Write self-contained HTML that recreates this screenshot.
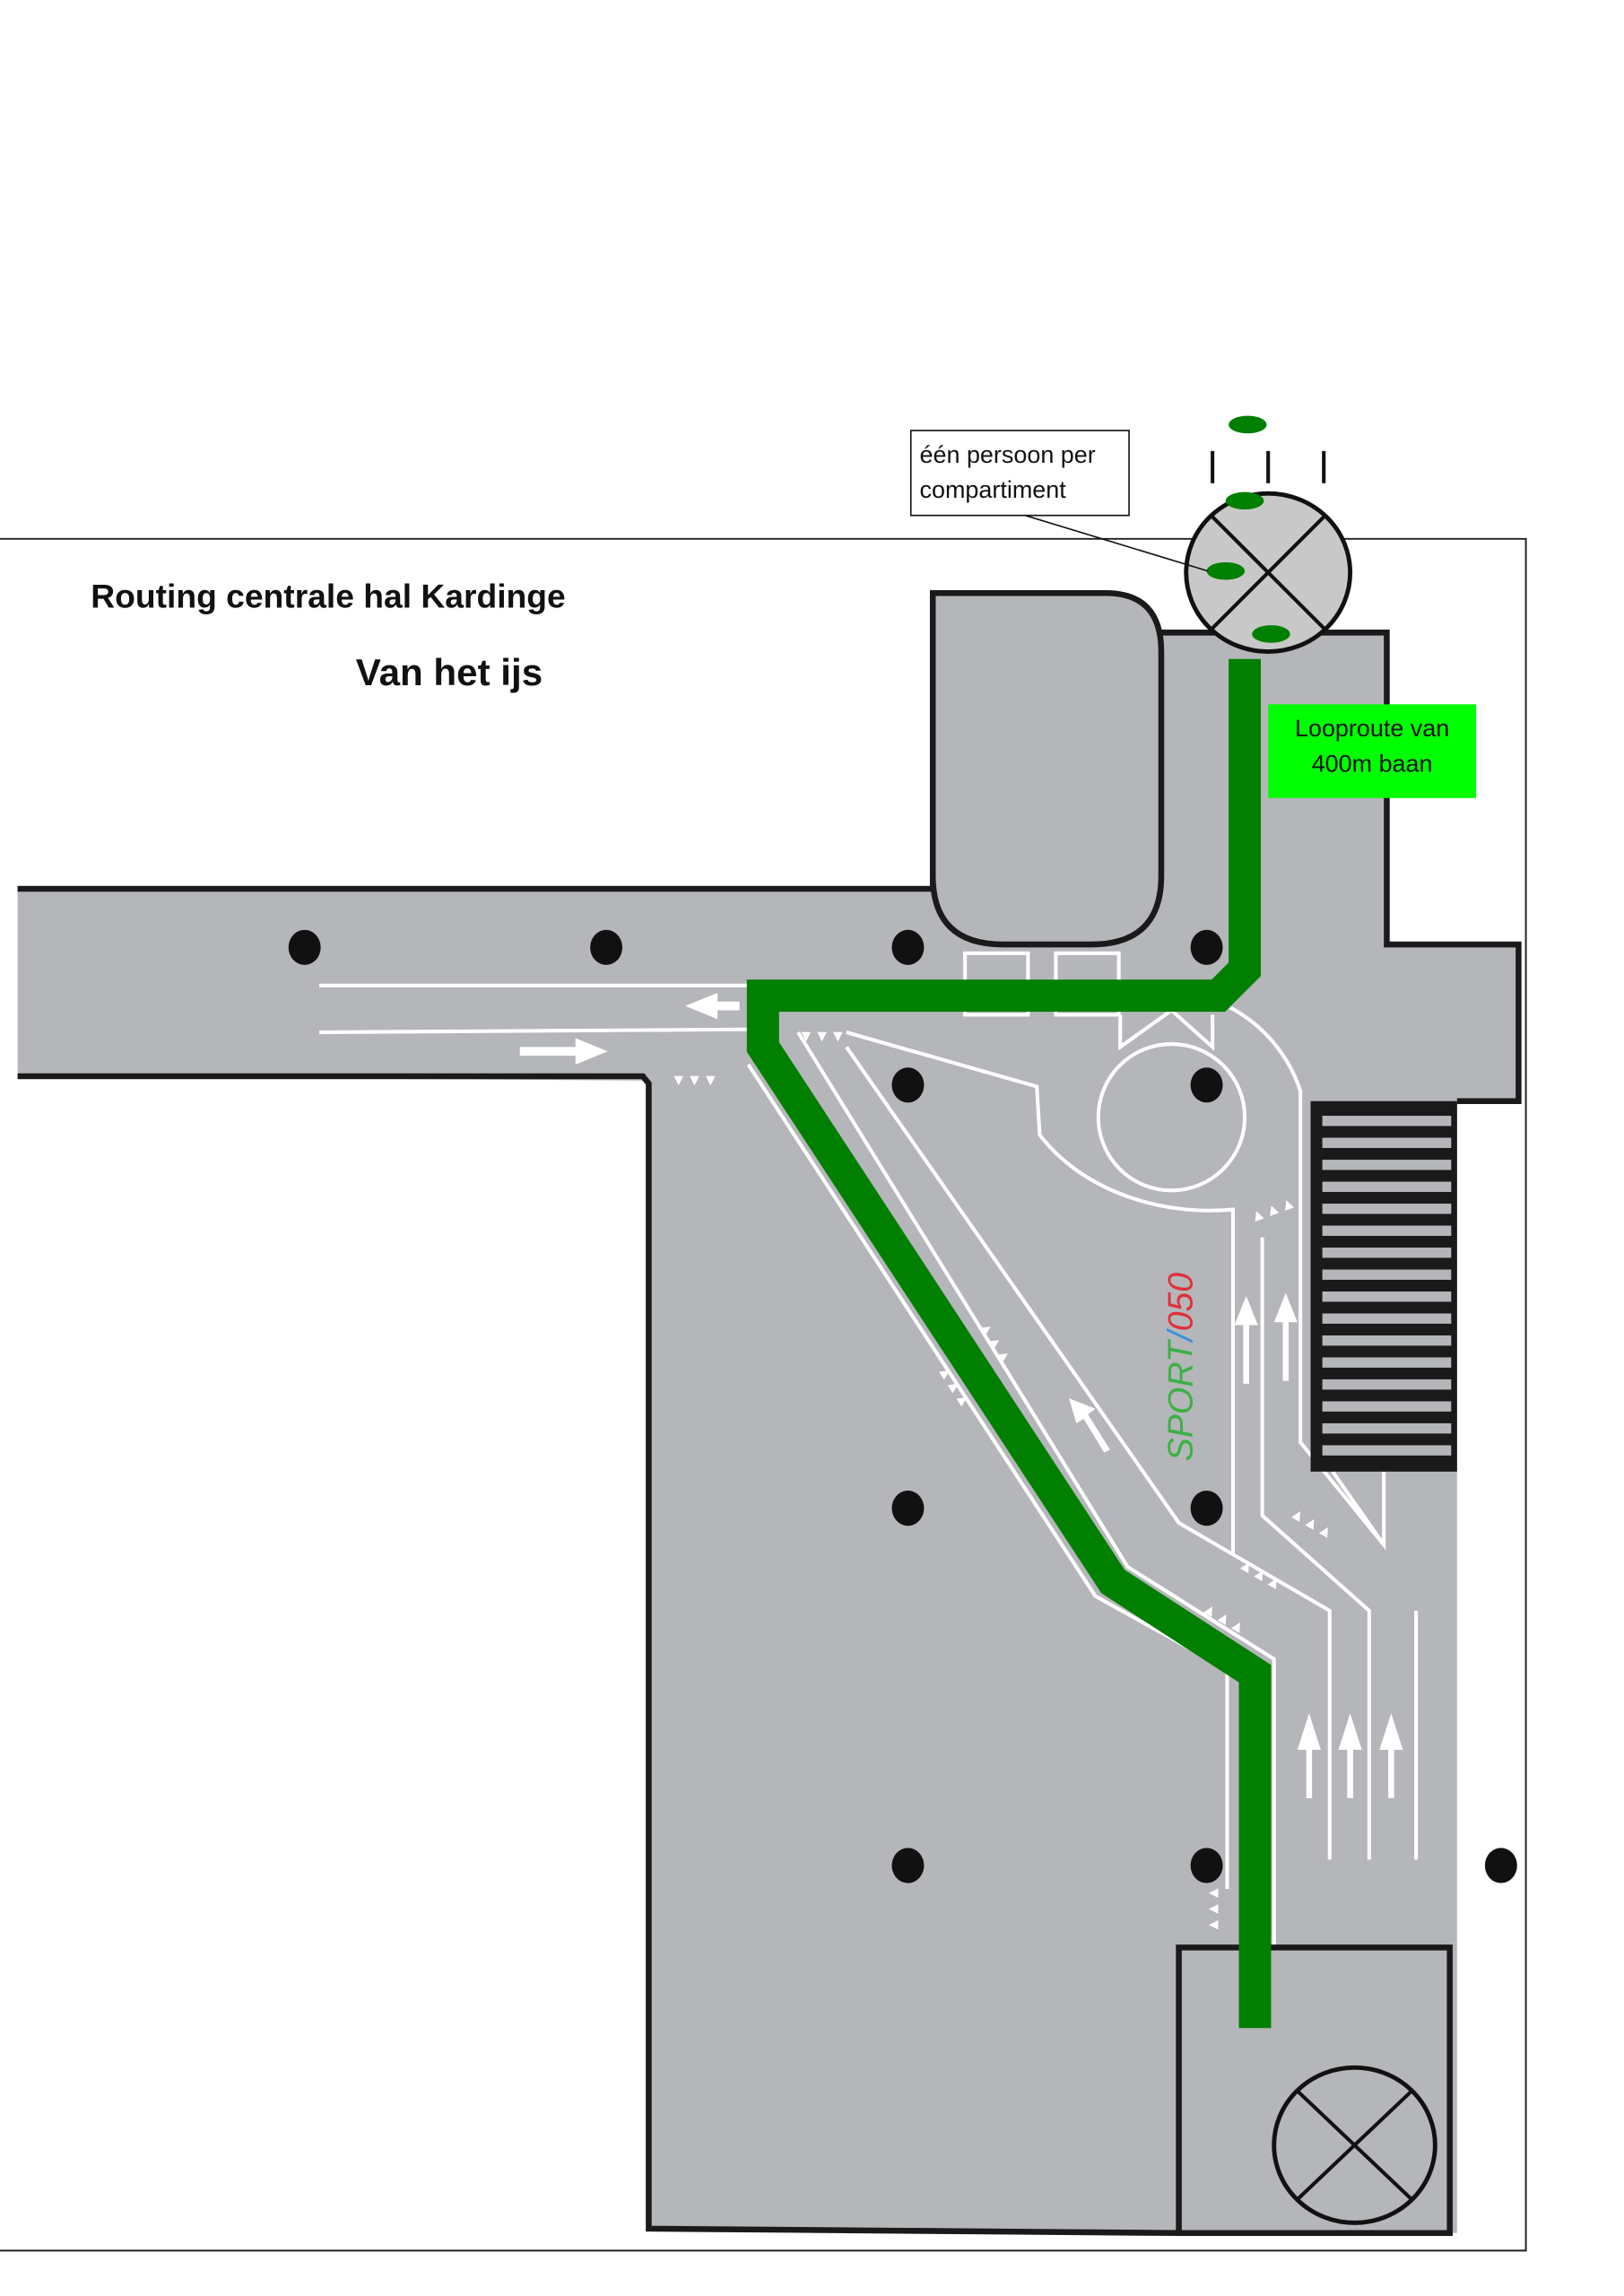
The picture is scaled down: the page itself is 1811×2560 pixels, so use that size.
<!DOCTYPE html>
<html><head><meta charset="utf-8"><style>
html,body{margin:0;padding:0;background:#fff;}
svg{display:block;}
text{font-family:"Liberation Sans",sans-serif;}
</style></head><body>
<svg width="1811" height="2560" viewBox="0 0 1109 1568" preserveAspectRatio="none" xmlns="http://www.w3.org/2000/svg">
<rect width="1109" height="1568" fill="#fff"/>
<polyline points="0,368 1042,368 1042,1537 0,1537" fill="none" stroke="#222" stroke-width="1.2"/>
<polygon points="12,607 793,607 793,432 947,432 947,645 1037,645 1037,752 995,752 995,1525 443,1522 443,738 12,735" fill="#b5b6ba"/>
<path d="M637,607 L637,405 L755,405 Q793,405 793,445 L793,598 Q793,645 745,645 L685,645 Q637,645 637,598 Z" fill="#b5b6ba" stroke="#1a1a1a" stroke-width="4"/>
<polyline points="12,607 637,607" fill="none" stroke="#1a1a1a" stroke-width="4"/>
<polyline points="793,432 947,432 947,645 1037,645 1037,752 995,752" fill="none" stroke="#1a1a1a" stroke-width="4"/>
<polyline points="12,735 439,735 443,740 443,1522 805,1525" fill="none" stroke="#1a1a1a" stroke-width="4"/>
<g stroke="#fff" stroke-width="2.5" fill="none">
<line x1="218" y1="673" x2="510" y2="673"/>
<line x1="218" y1="705" x2="510" y2="703"/>
<rect x="659" y="651" width="43" height="42"/>
<rect x="721" y="651" width="43" height="42"/>
<circle cx="800" cy="763" r="50"/>
<path d="M765,693 L765,715 L800,690 L828,715 L828,693"/>
<path d="M578,705 L708,742 L710,775 A135,105 0 0 0 842,826 L842,1062"/>
<path d="M511,727 L748,1090 L838,1140 L838,1290"/>
<path d="M545,705 L770,1070 L870,1133 L870,1330"/>
<path d="M578,715 L805,1040 L908,1100 L908,1270"/>
<path d="M862,845 L862,1035 L935,1100 L935,1270"/>
<line x1="967" y1="1100" x2="967" y2="1270"/>
<path d="M840,688 A100,100 0 0 1 888,745 L888,985 L945,1055 L945,1005"/>
<line x1="910" y1="1005" x2="945" y2="1055"/>
</g>
<g fill="#fff">
<polygon points="468,687 490,678 490,684 505,684 505,690 490,690 490,696"/>
<polygon points="415,718 393,709 393,715 355,715 355,721 393,721 393,727"/>
<polygon points="851,885 843,905 849,905 849,945 853,945 853,905 859,905"/>
<polygon points="878,883 870,903 876,903 876,943 880,943 880,903 886,903"/>
<polygon points="894,1170 886,1195 892,1195 892,1228 896,1228 896,1195 902,1195"/>
<polygon points="922,1170 914,1195 920,1195 920,1228 924,1228 924,1195 930,1195"/>
<polygon points="950,1170 942,1195 948,1195 948,1228 952,1228 952,1195 958,1195"/>
<polygon points="730,955 748,962 743,966 758,990 754,992 740,969 735,972"/>
<text x="458" y="741" font-size="11" fill="#fff">▼▼▼</text>
<text x="545" y="711" font-size="11" fill="#fff">▼▼▼</text>
<text x="640" y="935" font-size="11" fill="#fff" transform="rotate(57 640 935)">▲▲▲</text>
<text x="668" y="905" font-size="11" fill="#fff" transform="rotate(57 668 905)">▲▲▲</text>
<text x="820" y="1100" font-size="11" fill="#fff" transform="rotate(30 820 1100)">▲▲▲</text>
<text x="845" y="1070" font-size="11" fill="#fff" transform="rotate(30 845 1070)">▲▲▲</text>
<text x="880" y="1035" font-size="11" fill="#fff" transform="rotate(30 880 1035)">▲▲▲</text>
<text x="855" y="835" font-size="11" fill="#fff" transform="rotate(-20 855 835)">▲▲▲</text>
<text x="832" y="1320" font-size="11" fill="#fff" transform="rotate(-90 832 1320)">▲▲▲</text>
</g>
<g fill="#111">
<ellipse cx="208" cy="647" rx="11" ry="12"/><ellipse cx="414" cy="647" rx="11" ry="12"/>
<ellipse cx="620" cy="647" rx="11" ry="12"/><ellipse cx="824" cy="647" rx="11" ry="12"/>
<ellipse cx="620" cy="741" rx="11" ry="12"/><ellipse cx="824" cy="741" rx="11" ry="12"/>
<ellipse cx="620" cy="1030" rx="11" ry="12"/><ellipse cx="824" cy="1030" rx="11" ry="12"/>
<ellipse cx="620" cy="1274" rx="11" ry="12"/><ellipse cx="824" cy="1274" rx="11" ry="12"/>
<ellipse cx="1025" cy="1274" rx="11" ry="12"/>
</g>
<rect x="895" y="752" width="100" height="253" fill="#1a1a1a"/>
<g fill="#b5b6ba">
<rect x="903" y="762" width="88" height="7"/><rect x="903" y="777" width="88" height="7"/>
<rect x="903" y="792" width="88" height="7"/><rect x="903" y="807" width="88" height="7"/>
<rect x="903" y="822" width="88" height="7"/><rect x="903" y="837" width="88" height="7"/>
<rect x="903" y="852" width="88" height="7"/><rect x="903" y="867" width="88" height="7"/>
<rect x="903" y="882" width="88" height="7"/><rect x="903" y="897" width="88" height="7"/>
<rect x="903" y="912" width="88" height="7"/><rect x="903" y="927" width="88" height="7"/>
<rect x="903" y="942" width="88" height="7"/><rect x="903" y="957" width="88" height="7"/>
<rect x="903" y="972" width="88" height="7"/><rect x="903" y="987" width="88" height="7"/>
</g>
<rect x="805" y="1330" width="185" height="195" fill="#b5b6ba" stroke="#1a1a1a" stroke-width="4"/>
<ellipse cx="925" cy="1465" rx="55" ry="53" fill="#b5b6ba" stroke="#111" stroke-width="3"/>
<line x1="886" y1="1428" x2="964" y2="1502" stroke="#111" stroke-width="2.5"/>
<line x1="964" y1="1428" x2="886" y2="1502" stroke="#111" stroke-width="2.5"/>
<text x="0" y="0" font-size="24" font-style="italic" transform="translate(814,998) rotate(-90)"><tspan fill="#3cb043">SPORT</tspan><tspan fill="#3a8fd8">/</tspan><tspan fill="#e0303a">050</tspan></text>
<polyline points="850,450 850,662 832,680 521,680 521,715 760,1080 857,1143 857,1385" fill="none" stroke="#007f00" stroke-width="22" stroke-linejoin="miter"/>
<ellipse cx="866" cy="391" rx="56" ry="54" fill="#c8c8c8" stroke="#111" stroke-width="3"/>
<line x1="827" y1="352" x2="905" y2="430" stroke="#111" stroke-width="2.5"/>
<line x1="905" y1="352" x2="827" y2="430" stroke="#111" stroke-width="2.5"/>
<g fill="#007f00">
<ellipse cx="852" cy="290" rx="13" ry="6"/><ellipse cx="850" cy="342" rx="13" ry="6"/>
<ellipse cx="837" cy="390" rx="13" ry="6"/><ellipse cx="868" cy="433" rx="13" ry="6"/>
</g>
<g stroke="#111" stroke-width="2.5">
<line x1="828" y1="308" x2="828" y2="330"/><line x1="866" y1="308" x2="866" y2="330"/><line x1="904" y1="308" x2="904" y2="330"/>
</g>
<line x1="700" y1="352" x2="825" y2="390" stroke="#111" stroke-width="1"/>
<rect x="622" y="294" width="149" height="58" fill="#fff" stroke="#111" stroke-width="1"/>
<text x="628" y="316" font-size="16.5" fill="#111">één persoon per</text>
<text x="628" y="340" font-size="16.5" fill="#111">compartiment</text>
<rect x="866" y="481" width="142" height="64" fill="#00ff00"/>
<text x="937" y="503" font-size="16.5" fill="#111" text-anchor="middle">Looproute van</text>
<text x="937" y="527" font-size="16.5" fill="#111" text-anchor="middle">400m baan</text>
<text x="62" y="415" font-size="22.8" font-weight="bold" fill="#111">Routing centrale hal Kardinge</text>
<text x="243" y="468" font-size="25.8" font-weight="bold" fill="#111">Van het ijs</text>
</svg>
</body></html>
